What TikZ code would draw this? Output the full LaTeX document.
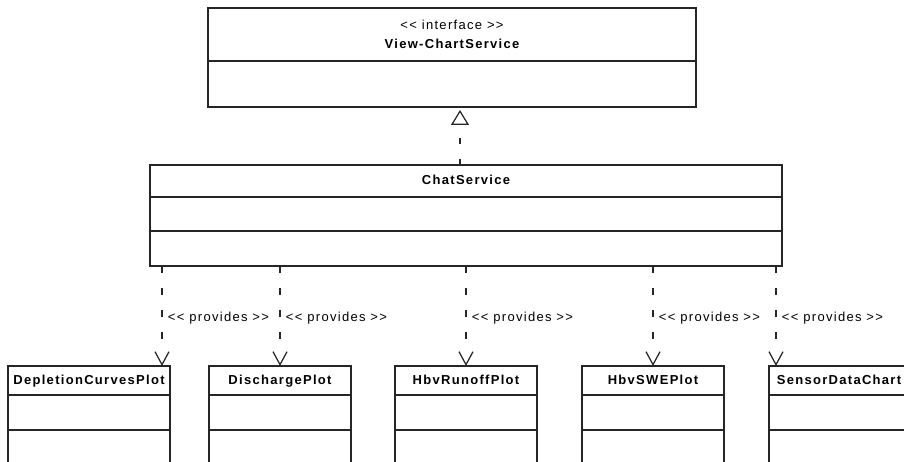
\documentclass[tikz,border=0pt]{standalone}
\usepackage{fontspec}
\setmainfont{Liberation Sans}[LetterSpace=10]
\usetikzlibrary{arrows.meta,positioning}

\colorlet{umlgray}{black!85}
\newcommand\stereo[1]{<{}< #1 >{}>} % keep << >> from turning into guillemets

\tikzset{
  umlline/.style={draw=umlgray, line width=1.25pt},
  compartment/.style={umlline, fill=white, inner sep=0pt, outer sep=0pt, minimum height=#1},
  classtitle/.style={compartment=29pt, anchor=north west, text height=9.5pt, text depth=2.5pt,
    font=\fontsize{13}{15}\selectfont\bfseries},
  provides/.style={umlline, dash pattern=on 7pt off 15pt on 7pt off 15pt on 7pt off 15pt on 7pt off 60pt,
    -{Straight Barb[length=13pt,width=14pt,line width=1.25pt]}},
  realizes/.style={umlline, dash pattern=on 6pt off 15pt,
    -{Triangle[open,length=15pt,width=18pt,line width=1.25pt]}, shorten >=3pt},
  stereolabel/.style={right, xshift=2pt, font=\fontsize{13}{15}\selectfont}
}

\begin{document}
\begin{tikzpicture}[x=1pt,y=-1pt]
\useasboundingbox (0,0) rectangle (904,462);
\clip (0,0) rectangle (904,462);

% interface
\node[compartment=53pt, anchor=north west, minimum width=488pt, align=center,
  font=\fontsize{13}{15}\selectfont] (iface) at (208,8)
  {\stereo{interface}\\[4pt] \bfseries View-ChartService};
\node[compartment=46pt, minimum width=488pt, below=0pt of iface] (iface-body) {};

% service class
\node[classtitle, minimum width=632pt, minimum height=32pt] (chat) at (150,165) {ChatService};
\node[compartment=34pt, minimum width=632pt, below=0pt of chat] (chat-attr) {};
\node[compartment=35pt, minimum width=632pt, below=0pt of chat-attr] (chat-ops) {};

% the plots (cut off at the bottom)
\foreach \name/\x/\w/\label in {dcp/8/162/DepletionCurvesPlot, dis/209/142/DischargePlot,
    hro/395/142/HbvRunoffPlot, swe/582/142/HbvSWEPlot, sdc/769/140/SensorDataChart}{
  \node[classtitle, minimum width=\w pt] (\name) at (\x,366) {\label};
  \node[compartment=35pt, minimum width=\w pt, below=0pt of \name] (\name-attr) {};
  \node[compartment=45pt, minimum width=\w pt, below=0pt of \name-attr] (\name-ops) {};
}
\coordinate (dcp-in) at ([xshift=-8pt]dcp.north east);
\coordinate (sdc-in) at ([xshift=7pt]sdc.north west);
\coordinate (iface-in) at ([xshift=8pt]iface-body.south);

% connectors
\draw[realizes] (chat.north -| iface-in) -- (iface-in);
\foreach \to in {dcp-in,dis.north,hro.north,swe.north,sdc-in}
  \draw[provides] (chat-ops.south -| \to) -- (\to)
    node[stereolabel, pos=0.52] {\stereo{provides}};
\end{tikzpicture}
\end{document}
